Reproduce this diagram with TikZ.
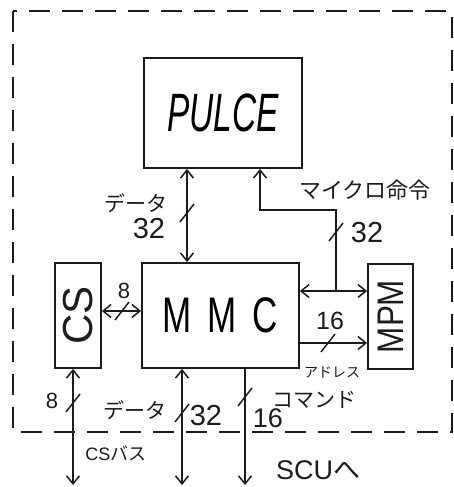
\documentclass[tikz,border=0pt]{standalone}
\usepackage{fontspec}
\usepackage{graphicx}
\setmainfont{Liberation Sans}
\newfontfamily\jpfont{Noto Sans CJK JP}
\usetikzlibrary{arrows.meta, calc}
\definecolor{ink}{HTML}{1C1C1C}

\newcommand{\busmark}[1]{\draw[ink, line width=1.5pt] ($#1+(-7,9)$) -- ($#1+(7,-9)$);}

\begin{document}
\begin{tikzpicture}[x=1pt, y=-1pt,
  >={Straight Barb[length=8pt, width=13pt]},
  blk/.style={draw=ink, line width=1.8pt, rectangle, inner sep=0pt},
  bus/.style={ink, line width=1.5pt},
  num/.style={ink, inner sep=0pt, font=\fontsize{29}{29}\selectfont},
  jlab/.style={ink, inner sep=0pt, font=\jpfont\fontsize{21}{21}\selectfont}]

\useasboundingbox (0,0) rectangle (454,487);

% --- Frame of the unit ---
\draw[ink, line width=1.8pt, dash pattern=on 21pt off 12pt] (13,11) rectangle (452,432);

% --- Blocks ---
\node[blk, minimum width=158pt, minimum height=110pt,
      font=\itshape\fontsize{54}{54}\selectfont] (pulce) at (223,113) {\scalebox{0.62}[1]{PULCE}};
\node[blk, minimum width=157pt, minimum height=105pt,
      font=\fontsize{50}{50}\selectfont] (mmc) at (220.5,315.5) {\scalebox{0.7}[1]{M\hspace{0.45em}M\hspace{0.45em}C}};
\node[blk, minimum width=46pt, minimum height=105pt] (cs) at (78,315.5) {};
\node[ink, rotate=90, font=\fontsize{42}{42}\selectfont] (cstxt) at (cs.center) {CS};
\node[blk, minimum width=45pt, minimum height=105pt] (mpm) at (390.5,316.5) {};
\node[ink, rotate=90, font=\fontsize{37}{37}\selectfont] (mpmtxt) at (mpm.center) {\scalebox{0.85}[1]{MPM}};

% --- Bus positions ---
\coordinate (dtop) at (187,0);
\coordinate (mrow) at (0,291);
\coordinate (arow) at (0,343);
\coordinate (crow) at (0,311);
\coordinate (mi) at (260,210);
\coordinate (jn) at (336,291);
\coordinate (cbus) at (73,0);
\coordinate (dbot) at (182,0);
\coordinate (cmd) at (245,0);
\coordinate (bot) at (0,485);

% --- Data PULCE <-> MMC ---
\draw[bus, <->] (pulce.south -| dtop) -- (mmc.north -| dtop);
\busmark{(187,213)}
\node[jlab] (dlab1) at (136,203) {データ};
\node[num] (dnum1) at (149,229) {32};

% --- Micro instructions MPM -> PULCE ---
\draw[bus, ->] (jn) -- (jn |- mi) -- (mi) -- (pulce.south -| mi);
\draw[bus, <->] (mmc.east |- mrow) -- (mpm.west |- mrow);
\busmark{(336,232)}
\node[jlab, font=\jpfont\fontsize{22}{22}\selectfont] (milab) at (365,190) {マイクロ命令};
\node[num] (minum) at (367,233) {32};

% --- Address MMC -> MPM ---
\draw[bus, ->] (mmc.east |- arow) -- (mpm.west |- arow);
\busmark{(328,343)}
\node[num, font=\fontsize{25}{25}\selectfont] (anum) at (330,321) {16};
\node[jlab, font=\jpfont\fontsize{14}{14}\selectfont] (alab) at (332,372) {アドレス};

% --- CS <-> MMC ---
\draw[bus, <->] (cs.east |- crow) -- (mmc.west |- crow);
\busmark{(122,311)}
\node[num, font=\fontsize{22}{22}\selectfont] (csnum) at (124,291) {8};

% --- Buses leaving the unit ---
\draw[bus, <->] (cs.south -| cbus) -- (cbus |- bot);
\busmark{(73,403)}
\node[num, font=\fontsize{22}{22}\selectfont] (cbnum) at (52,401) {8};
\node[ink, inner sep=0pt, font=\fontsize{18}{18}\selectfont] (cblab) at (116,453) {CS{\jpfont バス}};

\draw[bus, <->] (mmc.south -| dbot) -- (dbot |- bot);
\busmark{(182,413)}
\node[jlab] (dlab2) at (135,410) {データ};
\node[num] (dnum2) at (206,416) {32};

\draw[bus, ->] (mmc.south -| cmd) -- (cmd |- bot);
\busmark{(245,397)}
\node[jlab] (cmdlab) at (314,400) {コマンド};
\node[num, font=\fontsize{27}{27}\selectfont] (cmdnum) at (268,418) {16};
\node[ink, inner sep=0pt, font=\fontsize{27}{27}\selectfont] (scu) at (318,470) {SCU{\jpfont へ}};

\end{tikzpicture}
\end{document}
